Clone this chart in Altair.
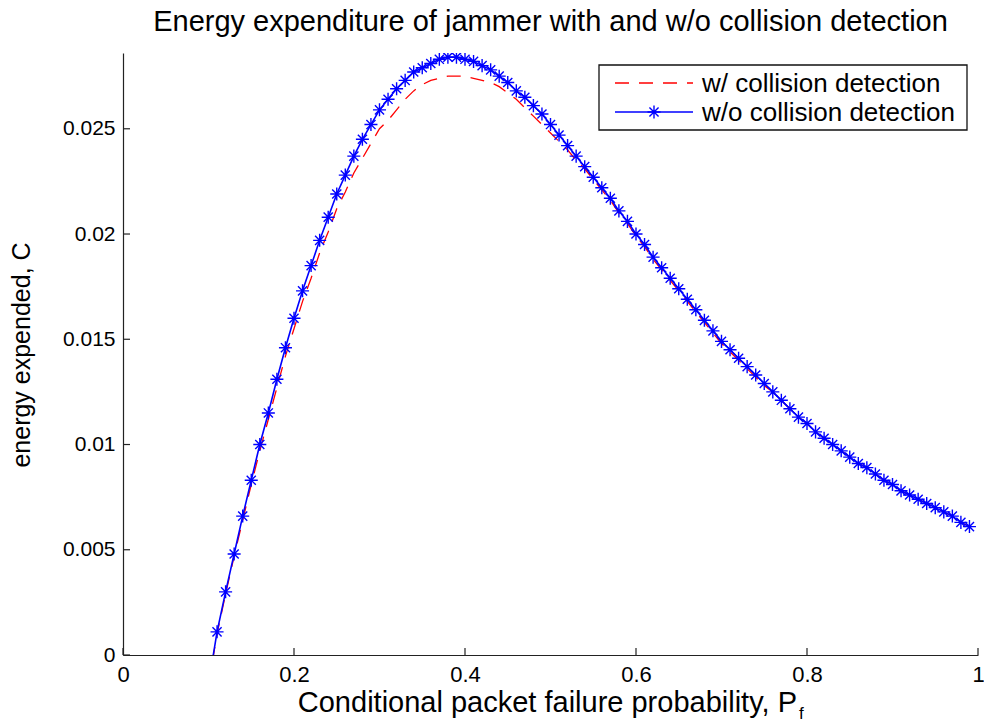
import altair as alt
import pandas as pd

# ---------------- data ----------------
pf = [0.10, 0.11, 0.12, 0.13, 0.14, 0.15, 0.16, 0.17, 0.18, 0.19,
      0.20, 0.21, 0.22, 0.23, 0.24, 0.25, 0.26, 0.27, 0.28, 0.29,
      0.30, 0.31, 0.32, 0.33, 0.34, 0.35, 0.36, 0.37, 0.38, 0.39,
      0.40, 0.41, 0.42, 0.43, 0.44, 0.45, 0.46, 0.47, 0.48, 0.49,
      0.50, 0.51, 0.52, 0.53, 0.54, 0.55, 0.56, 0.57, 0.58, 0.59,
      0.60, 0.61, 0.62, 0.63, 0.64, 0.65, 0.66, 0.67, 0.68, 0.69,
      0.70, 0.71, 0.72, 0.73, 0.74, 0.75, 0.76, 0.77, 0.78, 0.79,
      0.80, 0.81, 0.82, 0.83, 0.84, 0.85, 0.86, 0.87, 0.88, 0.89,
      0.90, 0.91, 0.92, 0.93, 0.94, 0.95, 0.96, 0.97, 0.98, 0.99]

c_without = [-0.0014, 0.0011, 0.0030, 0.0048, 0.0066, 0.0083, 0.0100, 0.0115, 0.0131, 0.0146,
             0.0160, 0.0173, 0.0185, 0.0197, 0.0208, 0.0219, 0.0228, 0.0237, 0.0245, 0.0252,
             0.0259, 0.0264, 0.0269, 0.0273, 0.0277, 0.0279, 0.0281, 0.0283, 0.0284, 0.0284,
             0.0283, 0.0282, 0.0280, 0.0278, 0.0275, 0.0272, 0.0268, 0.0265, 0.0261, 0.0257,
             0.0252, 0.0247, 0.0242, 0.0237, 0.0232, 0.0227, 0.0222, 0.0217, 0.0211, 0.0206,
             0.0200, 0.0195, 0.0189, 0.0184, 0.0179, 0.0174, 0.0169, 0.0164, 0.0159, 0.0154,
             0.0149, 0.0145, 0.0141, 0.0137, 0.0133, 0.0129, 0.0125, 0.0121, 0.0117, 0.0113,
             0.0110, 0.0106, 0.0103, 0.0100, 0.0097, 0.0094, 0.0091, 0.0089, 0.0086, 0.0083,
             0.0081, 0.0078, 0.0076, 0.0074, 0.0072, 0.0070, 0.0068, 0.0066, 0.0063, 0.0061]

c_with = [-0.0014, 0.0010, 0.0029, 0.0047, 0.0064, 0.0081, 0.0097, 0.0112, 0.0127, 0.0142,
          0.0155, 0.0168, 0.0179, 0.0191, 0.0201, 0.0212, 0.0220, 0.0229, 0.0236, 0.0243,
          0.0250, 0.0254, 0.0259, 0.0264, 0.0268, 0.0271, 0.0273, 0.0274, 0.0275, 0.0275,
          0.0275, 0.0274, 0.0273, 0.0272, 0.0270, 0.0267, 0.0264, 0.0260, 0.0256, 0.0252,
          0.0248, 0.0244, 0.0240, 0.0235, 0.0231, 0.0226, 0.0221, 0.0216, 0.0210, 0.0205,
          0.0199, 0.0194, 0.0188, 0.0183, 0.0178, 0.0173, 0.0168, 0.0163, 0.0158, 0.0153,
          0.0148, 0.0144, 0.0140, 0.0136, 0.0132, 0.0128, 0.0125, 0.0121, 0.0117, 0.0113,
          0.0110, 0.0106, 0.0103, 0.0100, 0.0097, 0.0094, 0.0091, 0.0089, 0.0086, 0.0083,
          0.0081, 0.0078, 0.0076, 0.0074, 0.0072, 0.0070, 0.0068, 0.0066, 0.0063, 0.0061]

x_ticks = [0, 0.2, 0.4, 0.6, 0.8, 1.0]
y_ticks = [0, 0.005, 0.01, 0.015, 0.02, 0.025]

title_text = "Energy expenditure of jammer with and w/o collision detection"
x_title = "Conditional packet failure probability, P"
x_title_sub = "f"
y_title = "energy expended, C"
legend_labels = ["w/ collision detection", "w/o collision detection"]

# ---------------- styling ----------------
FONT = "Liberation Sans"
W, H = 855, 602
BLUE = "#0000ff"
RED = "#ff0000"
STAR = "M-1,0L1,0M0,-1L0,1M-0.7,-0.7L0.7,0.7M-0.7,0.7L0.7,-0.7"

df = pd.DataFrame({"pf": pf, "c_without": c_without, "c_with": c_with})

xs = alt.Scale(domain=[0, 1], nice=False, zero=False)
ys = alt.Scale(domain=[0, 0.0286], nice=False, zero=False)

x_axis = alt.Axis(values=x_ticks, format="~g", ticks=False, grid=False, title=None,
                  labelFont=FONT, labelFontSize=22, labelColor="black", labelPadding=9,
                  domainColor="#222222", domainWidth=1.2, labelFlush=False)
y_axis = alt.Axis(values=y_ticks, format="~g", ticks=False, grid=False, title=None,
                  labelFont=FONT, labelFontSize=21, labelColor="black", labelPadding=8,
                  domainColor="#222222", domainWidth=1.2, labelFlush=False)

base = alt.Chart(df)

red_line = base.mark_line(color=RED, strokeWidth=1.3, strokeDash=[14, 10], clip=True).encode(
    x=alt.X("pf:Q", scale=xs, axis=x_axis),
    y=alt.Y("c_with:Q", scale=ys, axis=y_axis),
)
blue_line = base.mark_line(color=BLUE, strokeWidth=1.6, clip=True).encode(
    x=alt.X("pf:Q", scale=xs),
    y=alt.Y("c_without:Q", scale=ys),
)
blue_pts = base.mark_point(shape=STAR, size=170, filled=False, stroke=BLUE,
                           strokeWidth=1.4, opacity=1, clip=True).encode(
    x=alt.X("pf:Q", scale=xs),
    y=alt.Y("c_without:Q", scale=ys),
)

# inward tick marks (MATLAB style)
xt = alt.Chart(pd.DataFrame({"v": x_ticks})).mark_rule(color="#222222", strokeWidth=1.2).encode(
    x=alt.X("v:Q", scale=xs), y=alt.value(H), y2=alt.value(H - 7))
yt = alt.Chart(pd.DataFrame({"v": y_ticks})).mark_rule(color="#222222", strokeWidth=1.2).encode(
    y=alt.Y("v:Q", scale=ys), x=alt.value(0), x2=alt.value(7))

one = alt.Data(values=[{"a": 1}])

def txt(text, x, y, size=20, align="left", angle=0, baseline="middle"):
    kw = dict(font=FONT, fontSize=size, color="black", align=align, baseline=baseline)
    if angle:
        kw["angle"] = angle
    return alt.Chart(one).mark_text(**kw).encode(
        x=alt.value(x), y=alt.value(y), text=alt.value(text))

# axis titles
x_t = txt(x_title, 674, 659, size=29, align="right", baseline="alphabetic")
x_ts = txt(x_title_sub, 676, 666, size=17, align="left", baseline="alphabetic")
y_t = txt(y_title, -101, 302, size=25, align="center", angle=270)

# legend box
leg_box = alt.Chart(one).mark_rect(fill="white", stroke="#111111", strokeWidth=1.3).encode(
    x=alt.value(476), x2=alt.value(844), y=alt.value(12), y2=alt.value(77))
leg_red = alt.Chart(one).mark_rule(color=RED, strokeWidth=1.3, strokeDash=[14, 10]).encode(
    x=alt.value(492), x2=alt.value(570), y=alt.value(30))
leg_blue = alt.Chart(one).mark_rule(color=BLUE, strokeWidth=1.6).encode(
    x=alt.value(492), x2=alt.value(570), y=alt.value(59))
leg_star = alt.Chart(one).mark_point(shape=STAR, size=170, filled=False, stroke=BLUE,
                                     strokeWidth=1.4, opacity=1).encode(
    x=alt.value(531), y=alt.value(59))
leg_t1 = txt(legend_labels[0], 579, 31, size=26)
leg_t2 = txt(legend_labels[1], 579, 60, size=26)

chart = alt.layer(
    red_line, blue_line, blue_pts, xt, yt, x_t, x_ts, y_t,
    leg_box, leg_red, leg_blue, leg_star, leg_t1, leg_t2,
).properties(
    width=W, height=H,
    autosize="none",
    padding={"left": 123, "top": 53, "right": 6, "bottom": 67},
    title=alt.TitleParams(text=title_text, font=FONT, fontSize=29, fontWeight="normal",
                          color="black", anchor="middle", offset=16),
    background="white",
).configure_view(stroke=None)

chart.save("out.html", embed_options={"renderer": "svg", "actions": False})
